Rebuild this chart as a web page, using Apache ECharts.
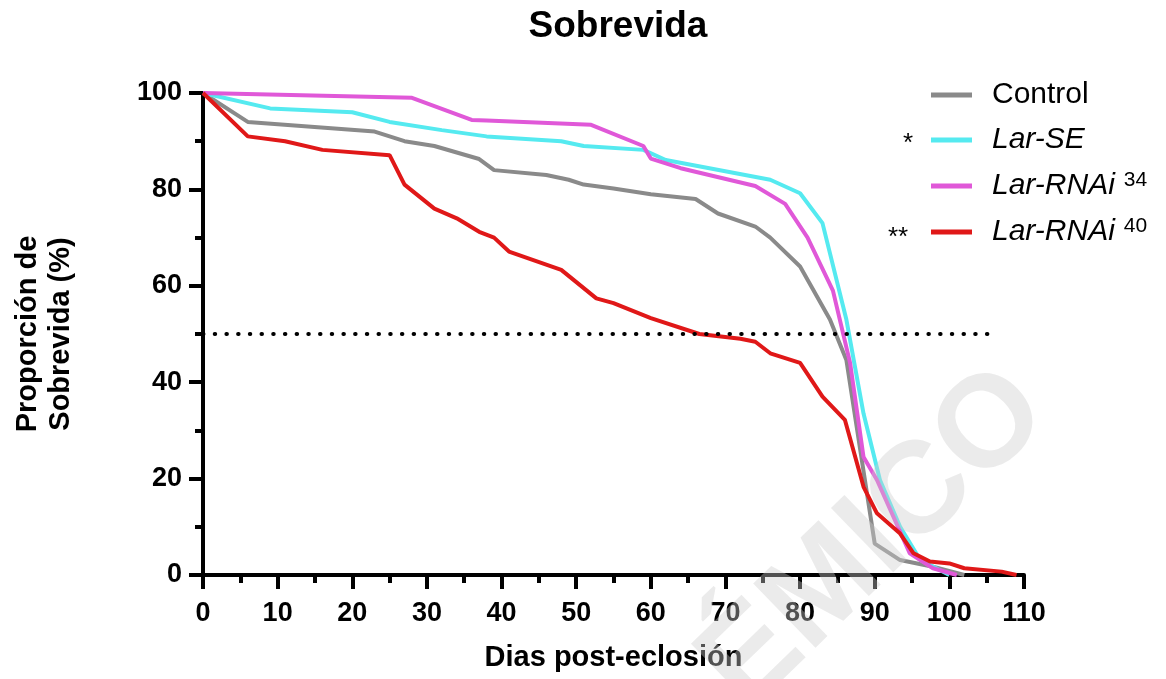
<!DOCTYPE html>
<html>
<head>
<meta charset="utf-8">
<script src="https://cdn.jsdelivr.net/npm/echarts@6/dist/echarts.min.js"></script>
<style>
  html, body { margin: 0; padding: 0; background: #ffffff; }
  #chart { width: 1166px; height: 679px; }
</style>
</head>
<body>
<div id="chart"></div>
<script>
// survival curves (days, % alive)
const controlDays = [0, 6, 23, 27, 31, 37, 39, 46, 49, 51, 55, 60, 66, 69, 74, 76, 80, 84, 86.2, 90, 93.4, 97.8, 102];
const controlPct  = [100, 94, 92, 90, 89, 86.3, 84, 83, 82, 81, 80.2, 79, 78, 75, 72.3, 70, 64, 53, 44.6, 6.5, 3.1, 1.7, 0];

const seDays = [0, 9, 20, 25, 32, 38, 48, 51, 59, 62, 76, 80, 83, 86.2, 88.5, 90.7, 93.4, 96.1, 100];
const sePct  = [100, 96.8, 96, 94, 92.3, 91, 90, 89, 88.2, 86.1, 82, 79.2, 73, 53, 33.5, 19.7, 10, 3.1, 0];

const rnai34Days = [0, 28, 36, 38, 52, 59, 60, 64, 74, 78, 81, 84.4, 86.7, 88.5, 90.3, 94.7, 97.8, 101];
const rnai34Pct  = [100, 99, 94.4, 94.3, 93.4, 89, 86.4, 84.4, 80.7, 77, 70, 59, 44, 24.5, 19.7, 4.5, 1.4, 0];

const rnai40Days = [0, 6, 11, 16, 25, 27, 31, 34, 37, 39, 41, 48, 52.7, 55, 60, 66.5, 72, 74, 76, 80, 83, 86, 88.5, 90.3, 93.4, 95.2, 97.4, 100, 102, 107, 109];
const rnai40Pct  = [100, 91, 90, 88.2, 87.1, 81, 76, 74, 71.2, 70, 67.1, 63.3, 57.4, 56.4, 53.3, 50, 49, 48.4, 46, 44, 37, 32.2, 18.3, 12.8, 8.6, 4.5, 2.8, 2.4, 1.4, 0.7, 0];

const seriesNames = ['Control', 'Lar-SE', 'Lar-RNAi34', 'Lar-RNAi40'];
const medianLine = [[0, 50], [106, 50]];

function zip(xs, ys) {
  return xs.map((x, i) => [x, ys[i]]);
}

const font = 'Liberation Sans';
const chart = echarts.init(document.getElementById('chart'));

const axisCommon = {
  type: 'value',
  axisLine: { show: true, lineStyle: { color: '#000', width: 4 } },
  axisTick: { show: true, length: 14, lineStyle: { color: '#000', width: 4 } },
  minorTick: { show: true, splitNumber: 2, length: 8, lineStyle: { color: '#000', width: 4 } },
  splitLine: { show: false },
  minorSplitLine: { show: false },
  axisLabel: { color: '#000', fontFamily: font, fontWeight: 'bold', fontSize: 27 },
  nameLocation: 'middle',
  nameTextStyle: { color: '#000', fontFamily: font, fontWeight: 'bold', fontSize: 29, lineHeight: 33 }
};

const option = {
  animation: false,
  color: ['#8a8a8a', '#55eaf0', '#e058d8', '#e01818'],
  title: {
    text: 'Sobrevida',
    left: 613,
    textAlign: 'center',
    top: 3,
    textStyle: { fontFamily: font, fontWeight: 'bold', fontSize: 37, color: '#000' }
  },
  legend: {
    orient: 'vertical',
    left: 926,
    top: 75,
    itemWidth: 41,
    itemHeight: 5,
    itemGap: 15,
    icon: 'rect',
    data: seriesNames,
    formatter: function (name) {
      if (name === 'Control') return '{n|Control}';
      if (name === 'Lar-SE') return '{i|Lar-SE}';
      if (name === 'Lar-RNAi34') return '{i|Lar-RNAi}{s|34}';
      return '{i|Lar-RNAi}{s|40}';
    },
    textStyle: {
      color: '#000',
      fontFamily: font,
      fontSize: 30,
      padding: [0, 0, 0, 15],
      rich: {
        n: { fontFamily: font, fontSize: 30, lineHeight: 32, color: '#000' },
        i: { fontFamily: font, fontSize: 30, lineHeight: 32, fontStyle: 'italic', color: '#000' },
        s: { fontFamily: font, fontSize: 21, lineHeight: 20, verticalAlign: 'top', padding: [0, 0, 0, 9], color: '#000' }
      }
    }
  },
  grid: { left: 203, right: 142, top: 93, bottom: 104, containLabel: false },
  xAxis: Object.assign({}, axisCommon, {
    min: 0,
    max: 110,
    interval: 10,
    name: 'Dias post-eclosión',
    nameGap: 66,
    axisLabel: Object.assign({}, axisCommon.axisLabel, { margin: 25 })
  }),
  yAxis: Object.assign({}, axisCommon, {
    min: 0,
    max: 100,
    interval: 20,
    name: 'Proporción de\nSobrevida (%)',
    nameRotate: 90,
    nameGap: 126,
    axisLabel: Object.assign({}, axisCommon.axisLabel, { margin: 21 })
  }),
  series: [
    {
      name: seriesNames[0], type: 'line', showSymbol: false, lineStyle: { width: 4 },
      data: zip(controlDays, controlPct),
      markLine: {
        silent: true,
        symbol: 'none',
        label: { show: false },
        lineStyle: { color: '#000', width: 4, type: [0.5, 11.2], cap: 'round' },
        data: [[{ coord: medianLine[0] }, { coord: medianLine[1] }]]
      }
    },
    { name: seriesNames[1], type: 'line', showSymbol: false, lineStyle: { width: 4 }, data: zip(seDays, sePct) },
    { name: seriesNames[2], type: 'line', showSymbol: false, lineStyle: { width: 4 }, data: zip(rnai34Days, rnai34Pct) },
    { name: seriesNames[3], type: 'line', showSymbol: false, lineStyle: { width: 4 }, data: zip(rnai40Days, rnai40Pct) }
  ],
  graphic: [
    { type: 'text', left: 903, top: 131, style: { text: '*', fontFamily: font, fontSize: 26, fill: '#000' } },
    { type: 'text', left: 888, top: 225, style: { text: '**', fontFamily: font, fontSize: 26, fill: '#000' } },
    // faint watermark
    {
      type: 'text', x: 875, y: 540, rotation: 0.77, z: 100, silent: true,
      style: {
        text: 'ÉMICO', fontFamily: font, fontWeight: 'bold', fontSize: 130,
        fill: 'rgba(205,205,205,0.4)', align: 'center', verticalAlign: 'middle'
      }
    }
  ]
};

chart.setOption(option);
</script>
</body>
</html>
